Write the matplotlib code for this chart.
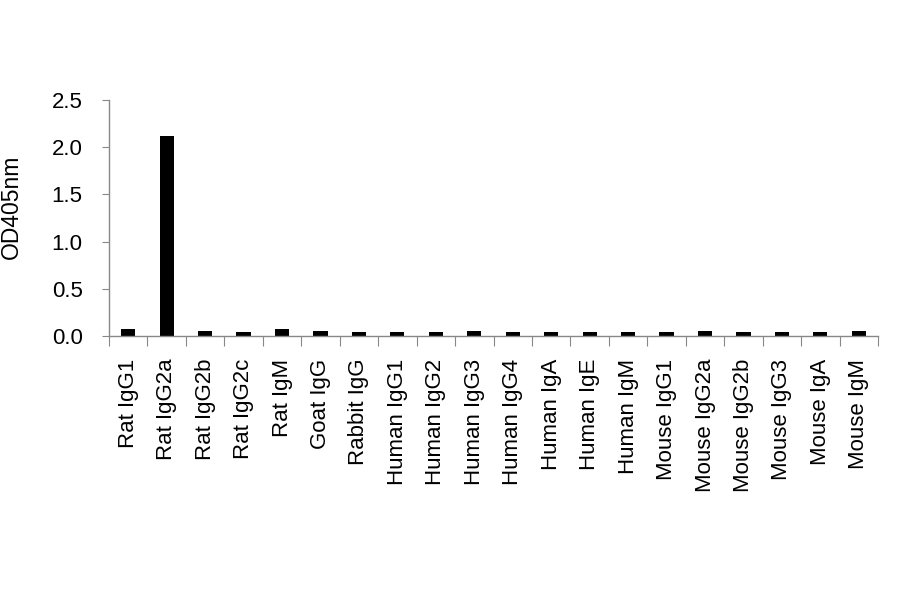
import matplotlib.pyplot as plt
import numpy as np

plt.rcParams['font.family'] = ['Liberation Sans', 'DejaVu Sans']

# antibody panel
anticorpos = ['Rat IgG1', 'Rat IgG2a', 'Rat IgG2b', 'Rat IgG2c', 'Rat IgM',
              'Goat IgG', 'Rabbit IgG', 'Human IgG1', 'Human IgG2', 'Human IgG3',
              'Human IgG4', 'Human IgA', 'Human IgE', 'Human IgM', 'Mouse IgG1',
              'Mouse IgG2a', 'Mouse IgG2b', 'Mouse IgG3', 'Mouse IgA', 'Mouse IgM']

od405 = [0.078, 2.12, 0.052, 0.038, 0.078,
         0.052, 0.038, 0.038, 0.038, 0.052,
         0.038, 0.038, 0.038, 0.038, 0.038,
         0.052, 0.038, 0.038, 0.038, 0.052]

y_ticks = [0.0, 0.5, 1.0, 1.5, 2.0, 2.5]


def gerar_grafico():
    fig = plt.figure(figsize=(9, 5.94), dpi=100)
    ax = fig.add_axes([0.1211, 0.4343, 0.8545, 0.3973])

    x = np.arange(len(anticorpos))
    ax.bar(x, od405, width=0.37, color='black')

    ax.set_xlim(-0.5, len(anticorpos) - 0.5)
    ax.set_ylim(0, 2.5)
    ax.set_yticks(y_ticks)
    ax.set_yticklabels([f'{v:.1f}' for v in y_ticks], fontsize=16)

    # ticks at the category boundaries
    ax.set_xticks(np.arange(len(anticorpos) + 1) - 0.5)
    ax.set_xticklabels([])
    ax.tick_params(axis='x', direction='out', length=7, color='#888888')
    ax.tick_params(axis='y', direction='out', length=5, color='#888888', pad=14)
    for i, nome in enumerate(anticorpos):
        ax.text(i, -0.24, nome, rotation=90, ha='center', va='top',
                fontsize=16, transform=ax.transData)

    for lado in ['top', 'right']:
        ax.spines[lado].set_visible(False)
    for lado in ['left', 'bottom']:
        ax.spines[lado].set_color('#888888')
        ax.spines[lado].set_linewidth(1.0)

    ax.set_ylabel('OD405nm', fontsize=16.5)
    ax.yaxis.set_label_coords(-0.112, 0.547)

    fig.savefig('out.png', dpi=100)


if __name__ == "__main__":
    gerar_grafico()
